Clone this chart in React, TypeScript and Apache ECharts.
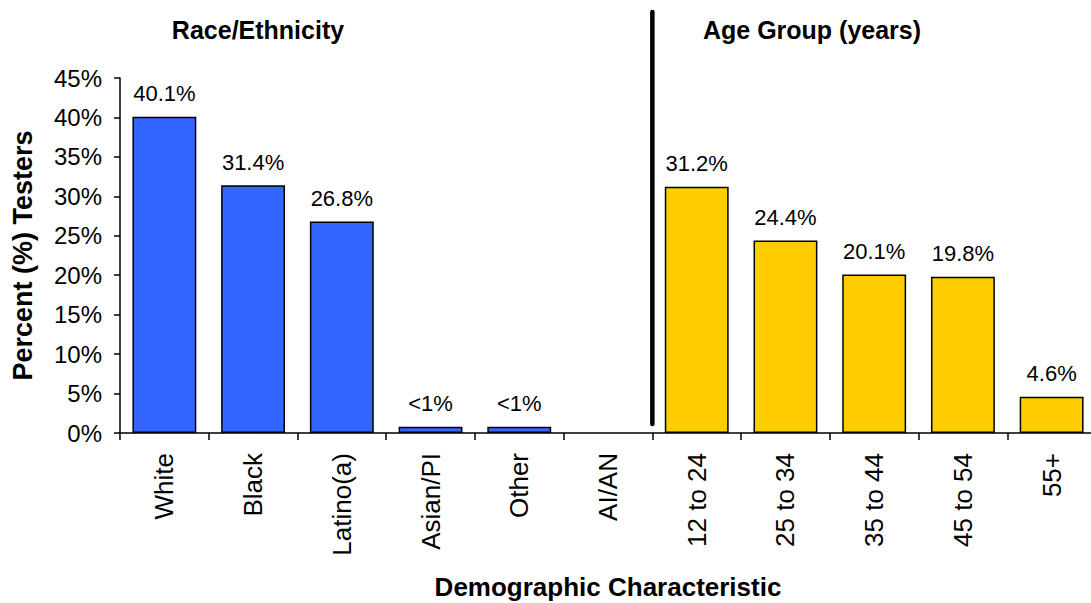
import React, { useEffect, useRef } from "react";
import * as echarts from "echarts";

const categories = ["White", "Black", "Latino(a)", "Asian/PI", "Other", "AI/AN", "12 to 24", "25 to 34", "35 to 44", "45 to 54", "55+"];
const values = [40.1, 31.4, 26.8, 0.8, 0.8, 0, 31.2, 24.4, 20.1, 19.8, 4.6];
const valueLabels = ["40.1%", "31.4%", "26.8%", "<1%", "<1%", "", "31.2%", "24.4%", "20.1%", "19.8%", "4.6%"];
const groupIndex = [0, 0, 0, 0, 0, 0, 1, 1, 1, 1, 1];
const groupTitles = ["Race/Ethnicity", "Age Group (years)"];
const groupColors = ["#3366FF", "#FFCC00"];

const FONT = "'Liberation Sans', Arial, sans-serif";

export default function App() {
  const ref = useRef<HTMLDivElement>(null);
  useEffect(() => {
    if (!ref.current) return;
    const chart = echarts.init(ref.current, undefined, { renderer: "svg" });
    chart.setOption({
      animation: false,
      backgroundColor: "#ffffff",
      grid: { left: 120, top: 78, width: 976, height: 355, containLabel: false, outerBoundsMode: "none" },
      xAxis: {
        type: "category",
        data: categories,
        name: "Demographic Characteristic",
        nameLocation: "middle",
        nameGap: 141,
        nameMoveOverlap: false,
        nameTextStyle: { fontFamily: FONT, fontSize: 26, fontWeight: "bold", color: "#000" },
        axisLine: { lineStyle: { color: "#000", width: 1.5 } },
        axisTick: { show: true, length: 7, lineStyle: { color: "#000", width: 1.5 } },
        axisLabel: { rotate: 90, margin: 20, fontFamily: FONT, fontSize: 26, color: "#000" },
      },
      yAxis: {
        type: "value",
        min: 0,
        max: 45,
        interval: 5,
        name: "Percent (%) Testers",
        nameLocation: "middle",
        nameGap: 84,
        nameMoveOverlap: false,
        nameRotate: 90,
        nameTextStyle: { fontFamily: FONT, fontSize: 27, fontWeight: "bold", color: "#000" },
        splitLine: { show: false },
        axisLine: { show: true, lineStyle: { color: "#000", width: 1.5 } },
        axisTick: { show: true, length: 6, lineStyle: { color: "#000", width: 1.5 } },
        axisLabel: { formatter: "{value}%", margin: 18, fontFamily: FONT, fontSize: 24, color: "#000" },
      },
      series: [
        {
          type: "bar",
          barWidth: "72%",
          data: values.map((v, i) => ({
            value: v,
            itemStyle: {
              color: groupColors[groupIndex[i]],
              borderColor: values[i] > 0 ? "#000" : "transparent",
              borderWidth: values[i] > 0 ? 1.5 : 0,
            },
          })),
          label: {
            show: true,
            position: "top",
            distance: 12,
            fontFamily: FONT,
            fontSize: 22,
            color: "#000",
            formatter: (p: any) => valueLabels[p.dataIndex],
          },
        },
      ],
    });
    const c5 = chart.convertToPixel({ xAxisIndex: 0 }, 5) as number;
    const c6 = chart.convertToPixel({ xAxisIndex: 0 }, 6) as number;
    const divX = (c5 + c6) / 2;
    chart.setOption({
      graphic: [
        {
          type: "line",
          shape: { x1: divX, y1: 12, x2: divX, y2: 424 },
          style: { stroke: "#000", lineWidth: 4.5, lineCap: "round" },
          z: 100,
        },
        {
          type: "text",
          x: 258,
          y: 30,
          style: { text: groupTitles[0], fontFamily: FONT, fontSize: 25, fontWeight: "bold", fill: "#000", align: "center", verticalAlign: "middle" },
        },
        {
          type: "text",
          x: 812,
          y: 30,
          style: { text: groupTitles[1], fontFamily: FONT, fontSize: 25, fontWeight: "bold", fill: "#000", align: "center", verticalAlign: "middle" },
        },
      ],
    });
    return () => chart.dispose();
  }, []);
  return <div ref={ref} style={{ position: "fixed", left: 0, top: 0, width: 1091, height: 603 }} />;
}
